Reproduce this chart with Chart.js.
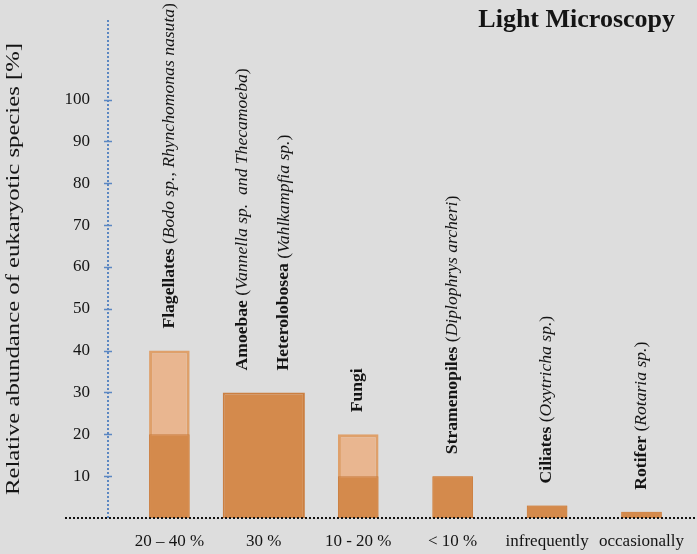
<!DOCTYPE html>
<html>
<head>
<meta charset="utf-8">
<script src="https://cdn.jsdelivr.net/npm/chart.js@4.4.0/dist/chart.umd.min.js"></script>
<style>
html, body { margin: 0; padding: 0; background: #dddddd; }
#box { width: 697px; height: 554px; }
</style>
</head>
<body>
<div id="box"><canvas id="myChart"></canvas></div>
<script>
// valeurs
const groupLabels = ['20 \u2013 40 %', '30 %', '10 - 20 %', '< 10 %', 'infrequently', 'occasionally'];
const taxa = [['Flagellates'], ['Amoebae', 'Heterolobosea'], ['Fungi'], ['Stramenopiles'], ['Ciliates'], ['Rotifer']];
const species = [
    ['Bodo sp., Rhynchomonas nasuta'],
    ['Vannella sp.  and Thecamoeba', 'Vahlkampfia sp.'],
    [''],
    ['Diplophrys archeri'],
    ['Oxytricha sp.'],
    ['Rotaria sp.']
];
const lowValues = [20, 30, 10, 10, 3, 1.5];
const highValues = [40, 30, 20, 10, 3, 1.5];
const yTicks = [10, 20, 30, 40, 50, 60, 70, 80, 90, 100];

const serif = '"Liberation Serif", "Times New Roman", serif';

// fond gris
const backdrop = {
    id: 'backdrop',
    beforeDraw(chart) {
        const c = chart.ctx;
        c.save();
        c.fillStyle = '#dddddd';
        c.fillRect(0, 0, chart.width, chart.height);
        c.restore();
    }
};

// axe y pointillé bleu, ligne de base, titres et noms des taxons
const decorations = {
    id: 'decorations',
    afterDraw(chart) {
        const c = chart.ctx;
        const y = chart.scales.y;
        const area = chart.chartArea;
        c.save();

        c.strokeStyle = '#5b87c2';
        c.lineWidth = 2;
        c.setLineDash([2, 2]);
        c.beginPath();
        c.moveTo(area.left, area.top);
        c.lineTo(area.left, area.bottom);
        c.stroke();

        c.strokeStyle = '#111111';
        c.beginPath();
        c.moveTo(65, area.bottom);
        c.lineTo(chart.width, area.bottom);
        c.stroke();
        c.setLineDash([]);

        c.strokeStyle = '#5b87c2';
        c.lineWidth = 1.5;
        yTicks.forEach(v => {
            const py = Math.round(y.getPixelForValue(v)) + 0.5;
            c.beginPath();
            c.moveTo(area.left - 4, py);
            c.lineTo(area.left + 4, py);
            c.stroke();
        });

        c.fillStyle = '#141414';

        // titre de l'axe y
        c.save();
        c.translate(14, (area.top + area.bottom) / 2);
        c.rotate(-Math.PI / 2);
        c.scale(1.3, 1);
        c.font = '19px ' + serif;
        c.textAlign = 'center';
        c.textBaseline = 'middle';
        c.fillText('Relative abundance of eukaryotic species [%]', 0, 0);
        c.restore();

        // titre
        c.font = 'bold 26px ' + serif;
        c.textAlign = 'right';
        c.textBaseline = 'alphabetic';
        c.fillText('Light Microscopy', 675, 27);

        // noms verticaux au-dessus des barres
        taxa.forEach((names, i) => {
            const meta = chart.getDatasetMeta(names.length > 1 ? 0 : 2);
            const bar = meta.data[i];
            names.forEach((name, j) => {
                const px = bar.x - bar.width / 2 + bar.width * (j + 0.5) / names.length;
                const py = y.getPixelForValue(highValues[i]) - 22;
                c.save();
                c.translate(px, py);
                c.rotate(-Math.PI / 2);
                c.scale(1.1, 1);
                c.textAlign = 'left';
                c.textBaseline = 'middle';
                c.font = 'bold 16px ' + serif;
                c.fillText(name, 0, 0);
                let w = c.measureText(name).width;
                const sp = species[i][j];
                if (sp) {
                    c.font = '16px ' + serif;
                    c.fillText(' (', w, 0);
                    w += c.measureText(' (').width;
                    c.font = 'italic 16px ' + serif;
                    c.fillText(sp, w, 0);
                    w += c.measureText(sp).width;
                    c.font = '16px ' + serif;
                    c.fillText(')', w, 0);
                }
                c.restore();
            });
        });
        c.restore();
    }
};

const dark = '#d48a4c';
const darkEdge = '#cb7f41';
const light = '#e9b690';
const lightEdge = '#dfa06a';

let ctx = document.getElementById('myChart').getContext('2d');
let data = {
    datasets: [
        {   // Amoebae + Heterolobosea : barre double
            data: lowValues.map((v, i) => ({x: i, y: taxa[i].length > 1 ? v : null})),
            backgroundColor: dark,
            borderColor: darkEdge,
            borderWidth: 2,
            barPercentage: 0.87,
            categoryPercentage: 1,
            grouped: false
        },
        {   // valeur basse
            data: lowValues.map((v, i) => ({x: i, y: taxa[i].length > 1 ? null : v})),
            backgroundColor: dark,
            borderColor: darkEdge,
            borderWidth: 1,
            barPercentage: 0.43,
            categoryPercentage: 1,
            grouped: false
        },
        {   // valeur haute
            data: highValues.map((v, i) => ({x: i, y: taxa[i].length > 1 ? null : v})),
            backgroundColor: light,
            borderColor: lightEdge,
            borderWidth: 3,
            barPercentage: 0.43,
            categoryPercentage: 1,
            grouped: false
        }
    ]
};

let myChart = new Chart(ctx, {
    type: 'bar',
    data: data,
    plugins: [backdrop, decorations],
    options: {
        responsive: true,
        maintainAspectRatio: false,
        animation: false,
        layout: {
            padding: {top: 20, left: 0, right: 0, bottom: 0}
        },
        plugins: {
            legend: {display: false},
            tooltip: {enabled: false}
        },
        scales: {
            x: {
                type: 'linear',
                offset: false,
                min: -0.65,
                max: 5.5,
                afterFit: s => { s.height = 36; },
                afterBuildTicks: s => { s.ticks = groupLabels.map((_, i) => ({value: i})); },
                grid: {display: false, drawTicks: false},
                border: {display: false},
                ticks: {
                    autoSkip: false,
                    maxRotation: 0,
                    padding: 13,
                    color: '#141414',
                    font: {family: serif, size: 17},
                    callback: v => groupLabels[v]
                }
            },
            y: {
                min: 0,
                max: 119,
                afterFit: s => { s.width = 108; },
                afterBuildTicks: s => { s.ticks = yTicks.map(v => ({value: v})); },
                grid: {
                    display: true,
                    drawOnChartArea: false,
                    drawTicks: true,
                    tickLength: 18,
                    color: 'rgba(0, 0, 0, 0)'
                },
                border: {display: false},
                ticks: {
                    padding: 0,
                    color: '#141414',
                    font: {family: serif, size: 17}
                }
            }
        }
    }
});
</script>
</body>
</html>
